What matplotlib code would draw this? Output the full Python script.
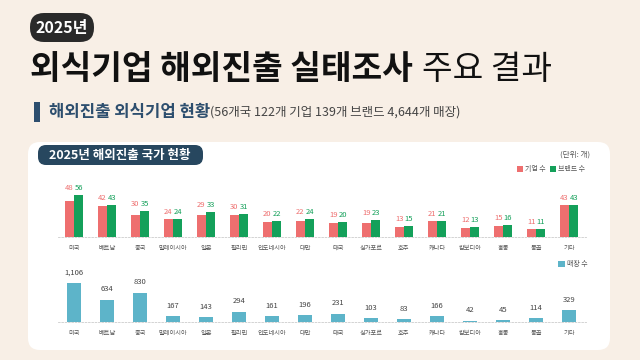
import numpy as np
import matplotlib
matplotlib.use("Agg")
import matplotlib.pyplot as plt
from matplotlib.patches import FancyBboxPatch, Rectangle

plt.rcParams['font.family'] = ['Noto Sans CJK KR', 'DejaVu Sans']

countries = ["미국", "베트남", "중국", "말레이시아", "일본", "필리핀", "인도네시아", "대만",
             "태국", "싱가포르", "호주", "캐나다", "캄보디아", "홍콩", "몽골", "기타"]
companies = [48, 42, 30, 24, 29, 30, 20, 22, 19, 19, 13, 21, 12, 15, 11, 43]
brands = [56, 43, 35, 24, 33, 31, 22, 24, 20, 23, 15, 21, 13, 16, 11, 43]
stores = [1106, 634, 830, 167, 143, 294, 161, 196, 231, 103, 83, 166, 42, 45, 114, 329]

BG = "#f8efe6"
RED = "#ee6f6f"
GREEN = "#14a05a"
TEAL = "#5db4c9"
NAVY = "#27475f"

W, H = 640, 360
fig = plt.figure(figsize=(6.4, 3.6), dpi=100, facecolor=BG)

# background layer in pixel coordinates (origin top-left)
bg = fig.add_axes([0, 0, 1, 1], zorder=-1)
bg.set_xlim(0, W)
bg.set_ylim(H, 0)
bg.axis("off")


def box(x0, y0, x1, y1, color, r):
    bg.add_patch(FancyBboxPatch((x0, y0), x1 - x0, y1 - y0,
                                boxstyle="round,pad=0,rounding_size=%f" % r,
                                facecolor=color, edgecolor="none"))


# header pill + titles
box(30, 13, 94, 42, "#2a2a2a", 14)
bg.text(62, 28, "2025년", ha="center", va="center", color="white",
        fontsize=11.5, fontweight="bold")
t1 = bg.text(30, 70, "외식기업 해외진출 실태조사", ha="left", va="center",
             color="#111111", fontsize=24, fontweight="black")
fig.canvas.draw()
bb = t1.get_window_extent()
bg.text(bb.x1 + 9, 70, "주요 결과", ha="left", va="center",
        color="#111111", fontsize=24)

bg.add_patch(Rectangle((34, 102), 6, 20, facecolor="#2d4e6e", edgecolor="none"))
t2 = bg.text(49, 112, "해외진출 외식기업 현황", ha="left", va="center",
             color="#2d4e6e", fontsize=12, fontweight="bold")
fig.canvas.draw()
bb = t2.get_window_extent()
bg.text(bb.x1, 112, "(56개국 122개 기업 139개 브랜드 4,644개 매장)",
        ha="left", va="center", color="#444444", fontsize=9)

# white panel
box(28, 142, 610, 350, "white", 12)
box(38, 145, 203, 165, NAVY, 8)
bg.text(120, 155, "2025년 해외진출 국가 현황", ha="center", va="center",
        color="white", fontsize=9, fontweight="bold")
bg.text(590, 155, "(단위: 개)", ha="right", va="center", color="#555555", fontsize=5.5)

x = np.arange(len(countries))
ax_left, ax_w = 57.5 / W, 528 / W

# chart 1: companies / brands
ax1 = fig.add_axes([ax_left, 1 - 237 / H, ax_w, 60 / H])
bw = 0.28
ax1.bar(x - bw / 2, companies, bw, color=RED, label="기업 수")
ax1.bar(x + bw / 2, brands, bw, color=GREEN, label="브랜드 수")
for i in range(len(x)):
    top = max(companies[i], brands[i])
    ax1.text(x[i] - bw / 2, top + 4, str(companies[i]), ha="center", va="bottom",
             color=RED, fontsize=5.5)
    ax1.text(x[i] + bw / 2, top + 4, str(brands[i]), ha="center", va="bottom",
             color=GREEN, fontsize=5.5)
ax1.set_ylim(0, 80)
ax1.set_xlim(-0.5, len(x) - 0.5)
ax1.legend(loc="lower right", bbox_to_anchor=(588 / W, 1 - 176 / H),
           bbox_transform=fig.transFigure, ncol=2, frameon=False, fontsize=5,
           handlelength=0.9, handleheight=0.9, handletextpad=0.3, columnspacing=0.6,
           labelcolor="#555555", borderaxespad=0)

# chart 2: stores
ax2 = fig.add_axes([ax_left, 1 - 322 / H, ax_w, 50 / H])
ax2.bar(x, stores, 0.42, color=TEAL, label="매장 수")
for i in range(len(x)):
    ax2.text(x[i], stores[i] + 180, format(stores[i], ","), ha="center", va="bottom",
             color="#444444", fontsize=5.5)
ax2.set_ylim(0, 1417)
ax2.set_xlim(-0.5, len(x) - 0.5)
ax2.legend(loc="lower right", bbox_to_anchor=(590 / W, 1 - 271 / H),
           bbox_transform=fig.transFigure, frameon=False, fontsize=5,
           handlelength=0.9, handleheight=0.9, handletextpad=0.3,
           labelcolor="#555555", borderaxespad=0)

for ax in (ax1, ax2):
    ax.set_facecolor("none")
    for s in ("top", "right", "left"):
        ax.spines[s].set_visible(False)
    ax.spines["bottom"].set_color("#cccccc")
    ax.spines["bottom"].set_linestyle((0, (2, 2)))
    ax.spines["bottom"].set_linewidth(0.6)
    ax.set_yticks([])
    ax.set_xticks(x)
    ax.set_xticklabels(countries, fontsize=4.5, color="#555555")
    ax.tick_params(axis="x", length=0, pad=5)

fig.savefig("out.png", dpi=100, facecolor=BG)
